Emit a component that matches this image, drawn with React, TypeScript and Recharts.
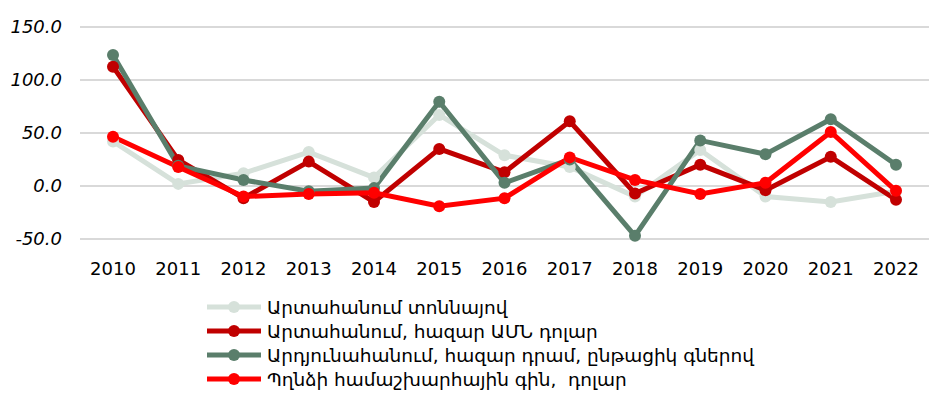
import { LineChart, Line, XAxis, YAxis, CartesianGrid } from "recharts";

const years = ["2010", "2011", "2012", "2013", "2014", "2015", "2016", "2017", "2018", "2019", "2020", "2021", "2022"];
const exportTons = [42, 2, 12, 32, 8, 67, 29, 18, -10, 34, -10, -15, -5];
const exportUsd = [112.6, 24.5, -11.5, 23, -15, 35, 13, 61, -7, 20, -4, 27.5, -13];
const mining = [123.6, 19, 5.7, -5, -2, 79.5, 3, 25, -47, 43, 30, 63, 20];
const copperPrice = [46.5, 18, -10, -7.5, -6.3, -19, -11.5, 27, 5.7, -7.5, 3, 51, -4.5];
const yTicks = [-50, 0, 50, 100, 150];

const series = [
  { key: "tons", name: "Արտահանում տոննայով", color: "#d6e1da", values: exportTons },
  { key: "usd", name: "Արտահանում, հազար ԱՄՆ դոլար", color: "#c00000", values: exportUsd },
  { key: "mining", name: "Արդյունահանում, հազար դրամ, ընթացիկ գներով", color: "#5a7e6b", values: mining },
  { key: "copper", name: "Պղնձի համաշխարհային գին,  դոլար", color: "#ff0000", values: copperPrice },
];

const data = years.map((year, i) => {
  const row: { [k: string]: string | number } = { year };
  series.forEach((s) => {
    row[s.key] = s.values[i];
  });
  return row;
});

const LegendBox = () => (
  <div
    style={{
      position: "absolute",
      left: 205,
      top: 295,
      fontFamily: "DejaVu Sans",
      fontSize: 18.5,
      color: "#000",
    }}
  >
    {series.map((s) => (
      <div key={s.key} style={{ display: "flex", alignItems: "center", height: 24, whiteSpace: "pre" }}>
        <svg width={58} height={16} style={{ marginRight: 4 }}>
          <line x1={2} y1={8} x2={56} y2={8} stroke={s.color} strokeWidth={5} />
          <circle cx={29} cy={8} r={6} fill={s.color} />
        </svg>
        <span>{s.name}</span>
      </div>
    ))}
  </div>
);

export default function App() {
  return (
    <div style={{ position: "relative", margin: -8, width: 950, height: 402, overflow: "hidden", background: "#fff" }}>
      <div
        style={{
          position: "absolute",
          left: 5,
          top: 3,
          width: 1000,
          height: 500,
          borderLeft: "2px solid #d9d9d9",
          borderTop: "2px solid #d9d9d9",
        }}
      />
      <div style={{ position: "absolute", left: 0, top: 0 }}>
        <LineChart width={950} height={402} data={data} margin={{ top: 27, right: 21, bottom: 133, left: 0 }}>
          <CartesianGrid vertical={false} stroke="#d9d9d9" strokeWidth={2} />
          <XAxis
            dataKey="year"
            axisLine={false}
            tickLine={false}
            interval={0}
            padding={{ left: 33, right: 33 }}
            height={30}
            tick={{ fill: "#000", fontSize: 18, fontFamily: "DejaVu Sans" }}
            dy={15}
          />
          <YAxis
            width={80}
            domain={[-50, 150]}
            ticks={yTicks}
            interval={0}
            axisLine={false}
            tickLine={false}
            tickFormatter={(v) => v.toFixed(1)}
            tick={{ fill: "#000", fontSize: 18, fontFamily: "DejaVu Sans", fontStyle: "italic" }}
            dx={-10}
          />
          {series.map((s) => (
            <Line
              key={s.key}
              dataKey={s.key}
              name={s.name}
              stroke={s.color}
              strokeWidth={5}
              dot={{ r: 6, fill: s.color, stroke: s.color, strokeWidth: 0 }}
              activeDot={false}
              isAnimationActive={false}
            />
          ))}
        </LineChart>
      </div>
      <LegendBox />
    </div>
  );
}
